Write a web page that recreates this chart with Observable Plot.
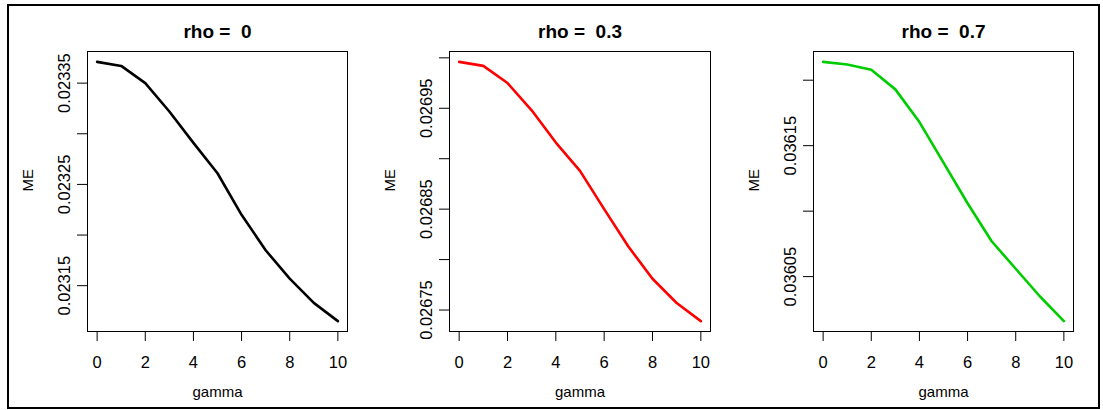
<!DOCTYPE html>
<html>
<head>
<meta charset="utf-8">
<script src="https://cdn.jsdelivr.net/npm/d3@7"></script>
<script src="https://cdn.jsdelivr.net/npm/@observablehq/plot@0.6"></script>
<style>
  html, body { margin: 0; padding: 0; background: #fff; }
  #wrap { position: relative; width: 1103px; height: 410px; overflow: hidden; background: #fff; font-family: "Liberation Sans", Arial, sans-serif; }
  #wrap svg { position: absolute; top: 0; background: transparent !important; overflow: visible; }
  #border { position: absolute; left: 7px; top: 4px; width: 1089px; height: 401px; border: 2.5px solid #000; pointer-events: none; }
</style>
</head>
<body>
<div id="wrap"></div>
<script>
// ---- data ----
const gamma = [0, 1, 2, 3, 4, 5, 6, 7, 8, 9, 10];
const titles = ["rho =  0", "rho =  0.3", "rho =  0.7"];
const colors = ["#000000", "#FF0000", "#00CD00"];
const me_rho0  = [0.023371, 0.023367, 0.023350, 0.023322, 0.023291, 0.023261, 0.023220, 0.023185, 0.023157, 0.023133, 0.023115];
const me_rho03 = [0.026996, 0.026992, 0.026975, 0.026948, 0.026916, 0.026888, 0.026850, 0.026813, 0.026781, 0.026757, 0.026739];
const me_rho07 = [0.036214, 0.036212, 0.036208, 0.036193, 0.036168, 0.036137, 0.036106, 0.036077, 0.036056, 0.036035, 0.036016];
const xTicks = [0, 2, 4, 6, 8, 10];
const yTicks0  = [0.02315, 0.02320, 0.02325, 0.02330, 0.02335];
const yLabels0 = [0.02315, 0.02325, 0.02335];
const yTicks03  = [0.02675, 0.02680, 0.02685, 0.02690, 0.02695, 0.02700];
const yLabels03 = [0.02675, 0.02685, 0.02695];
const yTicks07  = [0.03605, 0.03610, 0.03615, 0.03620];
const yLabels07 = [0.03605, 0.03615];

const series = [me_rho0, me_rho03, me_rho07];
const yTicksAll = [yTicks0, yTicks03, yTicks07];
const yLabelsAll = [yLabels0, yLabels03, yLabels07];

// layout of each panel (svg left, margins)
const panels = [
  {left: 0,   ml: 87, mr: 20},
  {left: 368, ml: 81, mr: 25},
  {left: 736, ml: 77, mr: 30}
];

const wrap = document.getElementById("wrap");
const font = "Liberation Sans, Arial, sans-serif";

function rpad(vals) {
  const [a, b] = d3.extent(vals);
  const p = (b - a) * 0.04;
  return [a - p, b + p];
}

series.forEach((vals, i) => {
  const rows = gamma.map((g, k) => ({gamma: g, me: vals[k]}));
  const P = panels[i];
  const chart = Plot.plot({
    width: 367,
    height: 410,
    marginLeft: P.ml,
    marginRight: P.mr,
    marginTop: 51,
    marginBottom: 79,
    style: {fontFamily: font, fontSize: "16px", background: "transparent", overflow: "visible"},
    x: {domain: [-0.4, 10.4]},
    y: {domain: rpad(vals)},
    marks: [
      Plot.line(rows, {x: "gamma", y: "me", stroke: colors[i], strokeWidth: 2.6}),
      Plot.frame({stroke: "#000", strokeWidth: 1}),
      Plot.axisX({ticks: xTicks, tickSize: 10, tickFormat: () => "", label: null, stroke: "#000", strokeWidth: 1}),
      Plot.text(xTicks, {x: d => d, frameAnchor: "bottom", text: d => String(d), dy: 31, fontSize: 16.5, lineAnchor: "middle", fill: "#000"}),
      Plot.axisY({ticks: yTicksAll[i], tickSize: 10, tickFormat: () => "", label: null, stroke: "#000", strokeWidth: 1}),
      Plot.text(yLabelsAll[i], {y: d => d, frameAnchor: "left", text: d => d.toFixed(5), rotate: -90, dx: -23, fontSize: 16.5, textAnchor: "middle", lineAnchor: "middle", fill: "#000"}),
      Plot.text([titles[i]], {frameAnchor: "top", text: d => d, dy: -20, fontSize: 19, fontWeight: "bold", lineAnchor: "middle", fill: "#000"}),
      Plot.text(["gamma"], {frameAnchor: "bottom", text: d => d, dy: 61, fontSize: 15, lineAnchor: "middle", fill: "#000"}),
      Plot.text(["ME"], {frameAnchor: "left", text: d => d, rotate: -90, dx: -59, fontSize: 15, lineAnchor: "middle", fill: "#000"})
    ]
  });
  chart.style.left = P.left + "px";
  wrap.appendChild(chart);
});

const border = document.createElement("div");
border.id = "border";
wrap.appendChild(border);
</script>
</body>
</html>
